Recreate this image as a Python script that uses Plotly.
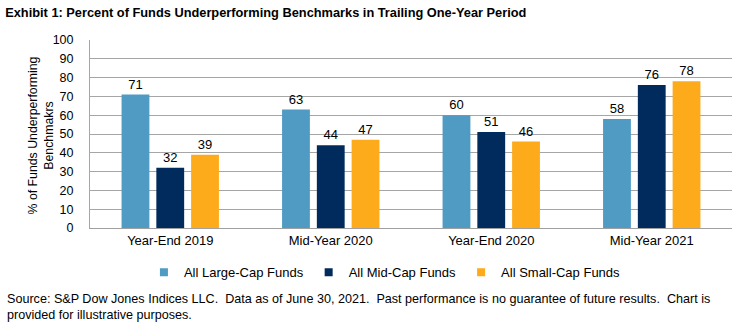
import plotly.graph_objects as go

categories = ["Year-End 2019", "Mid-Year 2020", "Year-End 2020", "Mid-Year 2021"]
series_names = ["All Large-Cap Funds", "All Mid-Cap Funds", "All Small-Cap Funds"]
large_cap = [71, 63, 60, 58]
mid_cap = [32, 44, 51, 76]
small_cap = [39, 47, 46, 78]
colors = ["#4F9BC4", "#002B5C", "#FDAB1B"]
y_ticks = list(range(0, 101, 10))

FONT = "Liberation Sans"

fig = go.Figure()
for name, vals, c in zip(series_names, [large_cap, mid_cap, small_cap], colors):
    fig.add_trace(go.Bar(
        x=categories, y=vals, name=name, marker=dict(color=c, line=dict(width=0)),
        text=[str(v) for v in vals], textposition="outside",
        textfont=dict(size=13, color="#000000", family=FONT),
        cliponaxis=False, showlegend=False,
    ))
# legend entries with small square swatches
for name, c in zip(series_names, colors):
    fig.add_trace(go.Scatter(
        x=[None], y=[None], mode="markers", name=name,
        marker=dict(symbol="square", size=8, color=c), showlegend=True,
    ))

fig.update_layout(
    width=740, height=330,
    margin=dict(l=90, r=8, t=40, b=102),
    paper_bgcolor="white", plot_bgcolor="white",
    font=dict(family=FONT, size=13, color="#000000"),
    barmode="group", bargap=0.35, bargroupgap=0.2,
    title=dict(text="<b>Exhibit 1: Percent of Funds Underperforming Benchmarks in Trailing One-Year Period</b>",
               x=0.007, xanchor="left", y=0.962, yanchor="middle",
               font=dict(size=12.8, family=FONT, color="#000000")),
    legend=dict(orientation="h", x=0.084, xanchor="left", y=-0.235, yanchor="middle",
                font=dict(size=13, family=FONT), itemwidth=30, traceorder="normal",
                tracegroupgap=0),
    showlegend=True,
    xaxis=dict(showline=True, linecolor="#A0A0A0", linewidth=1, ticks="",
               tickfont=dict(size=13, family=FONT)),
    yaxis=dict(range=[0, 100], tickvals=y_ticks, showgrid=True, gridcolor="#A6A6A6",
               gridwidth=1, zeroline=False, showline=True, linecolor="#A6A6A6",
               tickfont=dict(size=12.5, family=FONT), ticks="", ticklen=0,
               ticklabelstandoff=13),
)
fig.add_annotation(
    text="% of Funds Underperforming<br>Benchmakrs",
    xref="paper", yref="paper", x=-0.077, y=0.49, xanchor="center", yanchor="middle",
    textangle=-90, showarrow=False, font=dict(size=12.3, family=FONT),
)
fig.add_annotation(
    text="Source: S&P Dow Jones Indices LLC.  Data as of June 30, 2021.  Past performance is no guarantee of future results.  Chart is<br>provided for illustrative purposes.",
    xref="paper", yref="paper", x=-0.133, y=-0.33, xanchor="left", yanchor="top",
    align="left", showarrow=False, font=dict(size=12.6, family=FONT),
)
fig.write_html("out.html")
